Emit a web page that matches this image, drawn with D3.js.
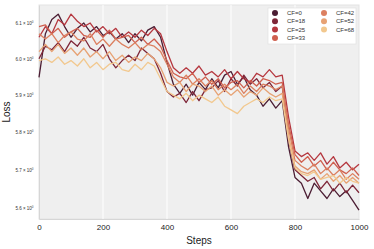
<!DOCTYPE html>
<html>
<head>
<meta charset="utf-8">
<script src="https://cdn.jsdelivr.net/npm/d3@7"></script>
<style>
  body { margin: 0; background: #fff; }
  text { font-family: "Liberation Sans", Arial, sans-serif; }
</style>
</head>
<body>
<div id="chart"></div>
<script>
// Data (loss every 20 steps).
let steps = d3.range(0, 1001, 20);
let labels = ["CF=0", "CF=18", "CF=25", "CF=33", "CF=42", "CF=52", "CF=68"];
let colors = ["#4b1d33", "#7e2638", "#b5373f", "#cf5f4f", "#dc8060", "#e7a274", "#f2c88e"];
let yTicks = [5.6, 5.7, 5.8, 5.9, 6.0, 6.1];
let xTicks = [0, 200, 400, 600, 800, 1000];

let cf0 = [5.949, 6.07, 6.11, 6.125, 6.09, 6.06, 6.085, 6.10, 6.075, 6.09,
  6.065, 6.075, 6.055, 6.07, 6.045, 6.07, 6.05, 6.08, 6.09, 6.06,
  5.99, 5.93, 5.905, 5.93, 5.90, 5.935, 5.915, 5.945, 5.92, 5.955,
  5.965, 5.93, 5.95, 5.915, 5.90, 5.87, 5.89, 5.865, 5.885, 5.76,
  5.68, 5.665, 5.625, 5.665, 5.645, 5.625, 5.65, 5.63, 5.645, 5.62, 5.595];
let cf18 = [6.0, 6.035, 6.025, 6.045, 6.02, 6.05, 6.035, 6.06, 6.03, 6.02,
  6.04, 6.0, 5.975, 5.995, 6.01, 5.995, 6.03, 6.015, 6.0, 5.96,
  5.91, 5.895, 5.905, 5.88, 5.91, 5.885, 5.915, 5.92, 5.94, 5.91,
  5.945, 5.925, 5.955, 5.93, 5.945, 5.92, 5.935, 5.91, 5.925, 5.78,
  5.70, 5.685, 5.67, 5.68, 5.65, 5.67, 5.645, 5.665, 5.64, 5.66, 5.64];
let cf25 = [6.06, 6.09, 6.07, 6.11, 6.095, 6.125, 6.105, 6.09, 6.10, 6.075,
  6.09, 6.07, 6.085, 6.06, 6.075, 6.06, 6.08, 6.065, 6.085, 6.07,
  6.02, 5.975, 5.96, 5.975, 5.96, 5.98, 5.955, 5.965, 5.95, 5.97,
  5.945, 5.965, 5.945, 5.935, 5.96, 5.95, 5.97, 5.95, 5.955, 5.84,
  5.75, 5.735, 5.745, 5.725, 5.745, 5.715, 5.735, 5.705, 5.72, 5.70, 5.715];
let cf33 = [6.09, 6.095, 6.07, 6.085, 6.06, 6.075, 6.085, 6.065, 6.06, 6.08,
  6.06, 6.08, 6.055, 6.06, 6.065, 6.045, 6.06, 6.04, 6.055, 6.035,
  5.995, 5.96, 5.95, 5.945, 5.96, 5.935, 5.95, 5.93, 5.945, 5.92,
  5.935, 5.94, 5.92, 5.94, 5.925, 5.945, 5.94, 5.93, 5.935, 5.82,
  5.74, 5.72, 5.735, 5.71, 5.725, 5.70, 5.72, 5.70, 5.69, 5.705, 5.685];
let cf42 = [6.07, 6.055, 6.07, 6.045, 6.065, 6.075, 6.055, 6.05, 6.07, 6.04,
  6.055, 6.035, 6.055, 6.04, 6.03, 6.045, 6.025, 6.04, 6.035, 6.02,
  5.985, 5.95, 5.935, 5.955, 5.93, 5.945, 5.925, 5.94, 5.915, 5.93,
  5.915, 5.93, 5.905, 5.925, 5.91, 5.93, 5.925, 5.915, 5.925, 5.81,
  5.725, 5.71, 5.70, 5.715, 5.69, 5.705, 5.685, 5.70, 5.675, 5.69, 5.675];
let cf52 = [6.02, 6.04, 6.02, 6.04, 6.015, 6.03, 6.01, 6.03, 6.005, 6.02,
  6.0, 6.02, 5.995, 6.01, 5.99, 6.005, 5.995, 6.015, 6.0, 5.975,
  5.935, 5.925, 5.935, 5.91, 5.93, 5.925, 5.91, 5.925, 5.9, 5.915,
  5.90, 5.915, 5.895, 5.91, 5.90, 5.92, 5.905, 5.895, 5.905, 5.79,
  5.71, 5.695, 5.69, 5.70, 5.675, 5.69, 5.67, 5.685, 5.665, 5.68, 5.665];
let cf68 = [5.995, 6.0, 5.99, 6.005, 5.985, 5.995, 5.98, 6.0, 5.975, 5.99,
  5.97, 5.985, 5.99, 5.97, 5.965, 5.985, 5.97, 5.99, 5.98, 5.945,
  5.91, 5.90, 5.89, 5.905, 5.885, 5.90, 5.89, 5.88, 5.895, 5.87,
  5.86, 5.85, 5.87, 5.88, 5.89, 5.88, 5.895, 5.885, 5.89, 5.78,
  5.705, 5.69, 5.685, 5.695, 5.675, 5.68, 5.685, 5.665, 5.68, 5.67, 5.665];

let series = [cf0, cf18, cf25, cf33, cf42, cf52, cf68];

// Dimensions of chart.
let margin = { top: 5, right: 15, bottom: 30, left: 39 },
  width = 374 - margin.left - margin.right,
  height = 249 - margin.top - margin.bottom;

let svg = d3
  .select("#chart")
  .append("svg")
  .attr("width", 374)
  .attr("height", 249)
  .append("g")
  .attr("transform", "translate(" + margin.left + "," + margin.top + ")");

// Scales
let x = d3.scaleLinear().domain([0, 1000]).range([0, width]);
let y = d3.scaleLog().domain([5.572, 6.151]).range([height, 0]);

// Plot background
svg
  .append("rect")
  .attr("width", width)
  .attr("height", height)
  .attr("fill", "#efefef")
  .attr("stroke", "#e3e3e3")
  .attr("stroke-width", 1);

// Vertical grid lines
svg
  .append("g")
  .selectAll("line")
  .data(xTicks.slice(1, -1))
  .join("line")
  .attr("x1", (d) => x(d))
  .attr("x2", (d) => x(d))
  .attr("y1", 0)
  .attr("y2", height)
  .attr("stroke", "#ffffff")
  .attr("stroke-width", 1);

// x-axis
let xAxis = d3
  .axisBottom(x)
  .tickValues(xTicks)
  .tickSize(0)
  .tickPadding(5)
  .tickFormat(d3.format("d"));
let xAxisEl = svg
  .append("g")
  .attr("class", "x axis")
  .attr("transform", "translate(0," + height + ")")
  .call(xAxis);
xAxisEl.select(".domain").attr("stroke", "#d6d6d6");
xAxisEl.selectAll("text").attr("font-size", "8px").attr("fill", "#222");

svg
  .append("text")
  .attr("x", width / 2)
  .attr("y", height + 25)
  .attr("text-anchor", "middle")
  .attr("font-size", "10px")
  .attr("fill", "#222")
  .text("Steps");

// y-axis
let yAxis = d3
  .axisLeft(y)
  .tickValues(yTicks)
  .tickSize(0)
  .tickPadding(4)
  .tickFormat((d) => d3.format(".1f")(d) + " × 10");
let yAxisEl = svg.append("g").attr("class", "y axis").call(yAxis);
yAxisEl.select(".domain").attr("stroke", "#d6d6d6");
yAxisEl.selectAll(".tick text")
  .attr("font-size", "4.5px")
  .attr("fill", "#333")
  .attr("dx", "-1.5px")
  .append("tspan")
  .attr("dy", "-1.8px")
  .attr("font-size", "3px")
  .text("0");

svg
  .append("text")
  .attr("transform", "translate(" + -29 + "," + height / 2 + ") rotate(-90)")
  .attr("text-anchor", "middle")
  .attr("font-size", "10px")
  .attr("fill", "#222")
  .text("Loss");

// Lines
let line = d3
  .line()
  .x((d, i) => x(steps[i]))
  .y((d) => y(d));

svg
  .append("g")
  .selectAll("path")
  .data(series)
  .join("path")
  .attr("d", (d) => line(d))
  .attr("fill", "none")
  .attr("stroke", (d, i) => colors[i])
  .attr("stroke-width", 1.3)
  .attr("stroke-linejoin", "round");

// Legend
let legend = svg.append("g").attr("transform", "translate(" + (268 - margin.left) + "," + (8 - margin.top) + ")");
legend
  .append("rect")
  .attr("width", 88)
  .attr("height", 36)
  .attr("fill", "#fff")
  .attr("stroke", "#dddddd")
  .attr("stroke-width", 0.6);

let item = legend
  .selectAll("g.item")
  .data(labels)
  .join("g")
  .attr("class", "item")
  .attr("transform", (d, i) => {
    let col = i < 4 ? 0 : 1;
    let row = i < 4 ? i : i - 4;
    return "translate(" + (7 + col * 49) + "," + (5 + row * 8.3) + ")";
  });
item
  .append("circle")
  .attr("r", 3)
  .attr("fill", (d, i) => colors[i]);
item
  .append("text")
  .attr("x", 12)
  .attr("y", 2)
  .attr("font-size", "6px")
  .attr("fill", "#333")
  .text((d) => d);
</script>
</body>
</html>
